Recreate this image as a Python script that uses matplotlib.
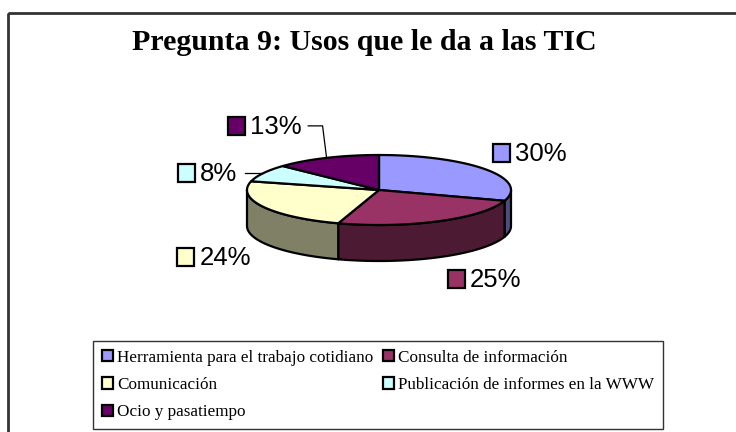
import numpy as np
import matplotlib
matplotlib.use("Agg")
import matplotlib.pyplot as plt
from matplotlib.patches import Polygon, Rectangle, Patch
from matplotlib.colors import to_rgb

# ---------------- data ----------------
title = "Pregunta 9: Usos que le da a las TIC"
categories = ["Herramienta para el trabajo cotidiano", "Consulta de información",
              "Comunicación", "Publicación de informes en la WWW", "Ocio y pasatiempo"]
values = [30, 25, 24, 8, 13]
pct_labels = ["30%", "25%", "24%", "8%", "13%"]
colors = ["#9999FF", "#993366", "#FFFFCC", "#CCFFFF", "#660066"]

# ---------------- layout ----------------
W, H = 736, 432
cx, cy, rx, ry, depth = 379, 190, 132, 35, 36
label_nudge = [(7, -16), (9, 22), (-86, 14), (-85, 0), (-99, -32)]
leader = [False, False, False, True, True]
sq_w, sq_h = 17, 18

fig = plt.figure(figsize=(W / 100, H / 100), dpi=100)
ax = fig.add_axes([0, 0, 1, 1])
ax.set_xlim(0, W)
ax.set_ylim(H, 0)
ax.axis("off")

def pt(theta, dy=0.0):
    t = np.radians(theta)
    return cx + rx * np.sin(t), cy - ry * np.cos(t) + dy

def arc(a0, a1, dy=0.0):
    n = max(2, int(abs(a1 - a0) * 2))
    th = np.linspace(a0, a1, n)
    return np.array([pt(t, dy) for t in th])

def darker(c, f=0.5):
    r, g, b = to_rgb(c)
    return (r * f, g * f, b * f)

fr = np.concatenate([[0], np.cumsum(values)]) / float(sum(values))
angles = fr * 360.0

# outer frame
ax.add_patch(Rectangle((8, 13), W + 20, H + 20, fill=False, edgecolor="#333333", lw=2, zorder=1))

# side faces (front half: 90..270 deg)
for i in range(len(values)):
    lo = max(angles[i], 90.0)
    hi = min(angles[i + 1], 270.0)
    if hi <= lo:
        continue
    top = arc(lo, hi)
    bot = arc(hi, lo, depth)
    ax.add_patch(Polygon(np.vstack([top, bot]), closed=True, facecolor=darker(colors[i]),
                         edgecolor="black", lw=1.6, joinstyle="round", zorder=2))

# top faces
for i in range(len(values)):
    pts = np.vstack([[cx, cy], arc(angles[i], angles[i + 1])])
    ax.add_patch(Polygon(pts, closed=True, facecolor=colors[i], edgecolor="black",
                         lw=1.6, joinstyle="round", zorder=3))

# data labels
fig.canvas.draw()
renderer = fig.canvas.get_renderer()
for i in range(len(values)):
    mid = (angles[i] + angles[i + 1]) / 2.0
    c = np.cos(np.radians(mid))
    bx, by = pt(mid, depth if c < 0 else 0)
    lx, ly = bx + label_nudge[i][0], by + label_nudge[i][1]
    ax.add_patch(Rectangle((lx, ly - sq_h / 2), sq_w, sq_h, facecolor=colors[i],
                           edgecolor="black", lw=1.6, zorder=4))
    t = ax.text(lx + sq_w + 5, ly + 1, pct_labels[i], fontsize=18.5,
                family="Liberation Sans", ha="left", va="center", zorder=4)
    if leader[i]:
        bb = t.get_window_extent(renderer)
        x_end = bb.x1 + 7
        ex, ey = pt(mid)
        ax.plot([x_end, ex - 4, ex], [ly, ly, ey], color="black", lw=0.9, zorder=4)

# title
ax.text(364, 43, title, fontsize=21.5, family="Liberation Serif", fontweight="bold",
        ha="center", va="center")

# legend (row-major order of the reference)
handles = [Patch(facecolor=colors[i], edgecolor="black", lw=1.6) for i in range(len(values))]
order = [0, 2, 4, 1, 3]
leg_x0, leg_x1, leg_top = 93, 663, 341
leg = fig.legend([handles[i] for i in order], [categories[i] for i in order],
                 ncol=2, loc="upper left", mode="expand",
                 bbox_to_anchor=(leg_x0 / W, 1 - leg_top / H - 0.01, (leg_x1 - leg_x0) / W, 0.01),
                 borderaxespad=0, frameon=True, fancybox=False, edgecolor="black",
                 prop={"family": "Liberation Serif", "size": 12.3},
                 handlelength=0.65, handleheight=0.65, handletextpad=0.25,
                 labelspacing=0.67, borderpad=0.5)
leg.get_frame().set_linewidth(1.0)

fig.savefig("out.png", dpi=100)
